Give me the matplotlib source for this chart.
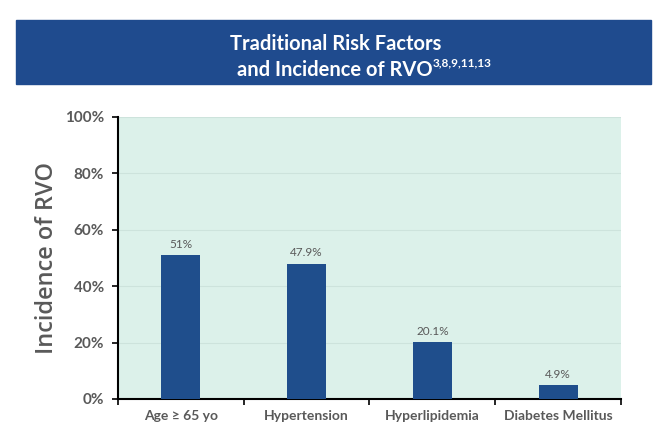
import numpy as np
from matplotlib import pyplot as plt
from matplotlib.patches import Rectangle

# datos
categorias = ["Age ≥ 65 yo", "Hypertension", "Hyperlipidemia", "Diabetes Mellitus"]
valores = [51, 47.9, 20.1, 4.9]
etiquetas = ["51%", "47.9%", "20.1%", "4.9%"]
yticks = [0, 20, 40, 60, 80, 100]

plt.rcParams['font.family'] = ['Lato', 'DejaVu Sans']
gris = "#595959"
azul = "#1f4e8c"

fig = plt.figure(figsize=(6.62, 4.45), dpi=100)

# banda del titulo
fig.patches.append(Rectangle((16/662, 1 - 84/445), 635/662, 64/445,
                             transform=fig.transFigure, color="#1f4b8e", zorder=0))
fig.text(0.507, 1 - 44/445, "Traditional Risk Factors", color="white",
         fontsize=14.5, fontweight="bold", ha="center", va="center")
fig.text(0.653, 1 - 70/445, "and Incidence of RVO", color="white",
         fontsize=14.5, fontweight="bold", ha="right", va="center")
fig.text(0.654, 1 - 63/445, "3,8,9,11,13", color="white",
         fontsize=8.5, fontweight="bold", ha="left", va="center")

ax = fig.add_axes([118/662, 46/445, 503/662, 282/445])
ax.set_facecolor("#dcf1ea")
x = np.arange(len(categorias))
ax.bar(x, valores, width=0.31, color=azul, zorder=3)
for xi, v, t in zip(x, valores, etiquetas):
    ax.text(xi, v + 2, t, ha="center", va="bottom", fontsize=8.5, color=gris)

ax.set_xlim(-0.5, len(categorias) - 0.5)
ax.set_ylim(0, 100)
ax.set_yticks(yticks)
ax.set_yticklabels([f"{t}%" for t in yticks], fontsize=11, fontweight="bold", color=gris)
ax.yaxis.grid(True, color="#cde3dc", linewidth=0.8, zorder=0)

ax.set_xticks(np.arange(len(categorias) + 1) - 0.5)
ax.set_xticklabels([])
ax.set_xticks(x, minor=True)
ax.set_xticklabels(categorias, minor=True, fontsize=10, fontweight="bold", color=gris)
ax.tick_params(axis="x", which="minor", length=0, pad=8)
ax.tick_params(axis="x", which="major", length=4, width=1.2, direction="out")
ax.tick_params(axis="y", length=4, width=1.2, direction="out", pad=6)

ax.set_ylabel("Incidence of RVO", fontsize=17, color=gris, labelpad=4,
              family=["Open Sans", "DejaVu Sans"], fontweight="semibold")

for s in ["top", "right"]:
    ax.spines[s].set_visible(False)
ax.spines["left"].set_linewidth(1.5)
ax.spines["bottom"].set_linewidth(1.5)

fig.savefig("out.png", dpi=100)
